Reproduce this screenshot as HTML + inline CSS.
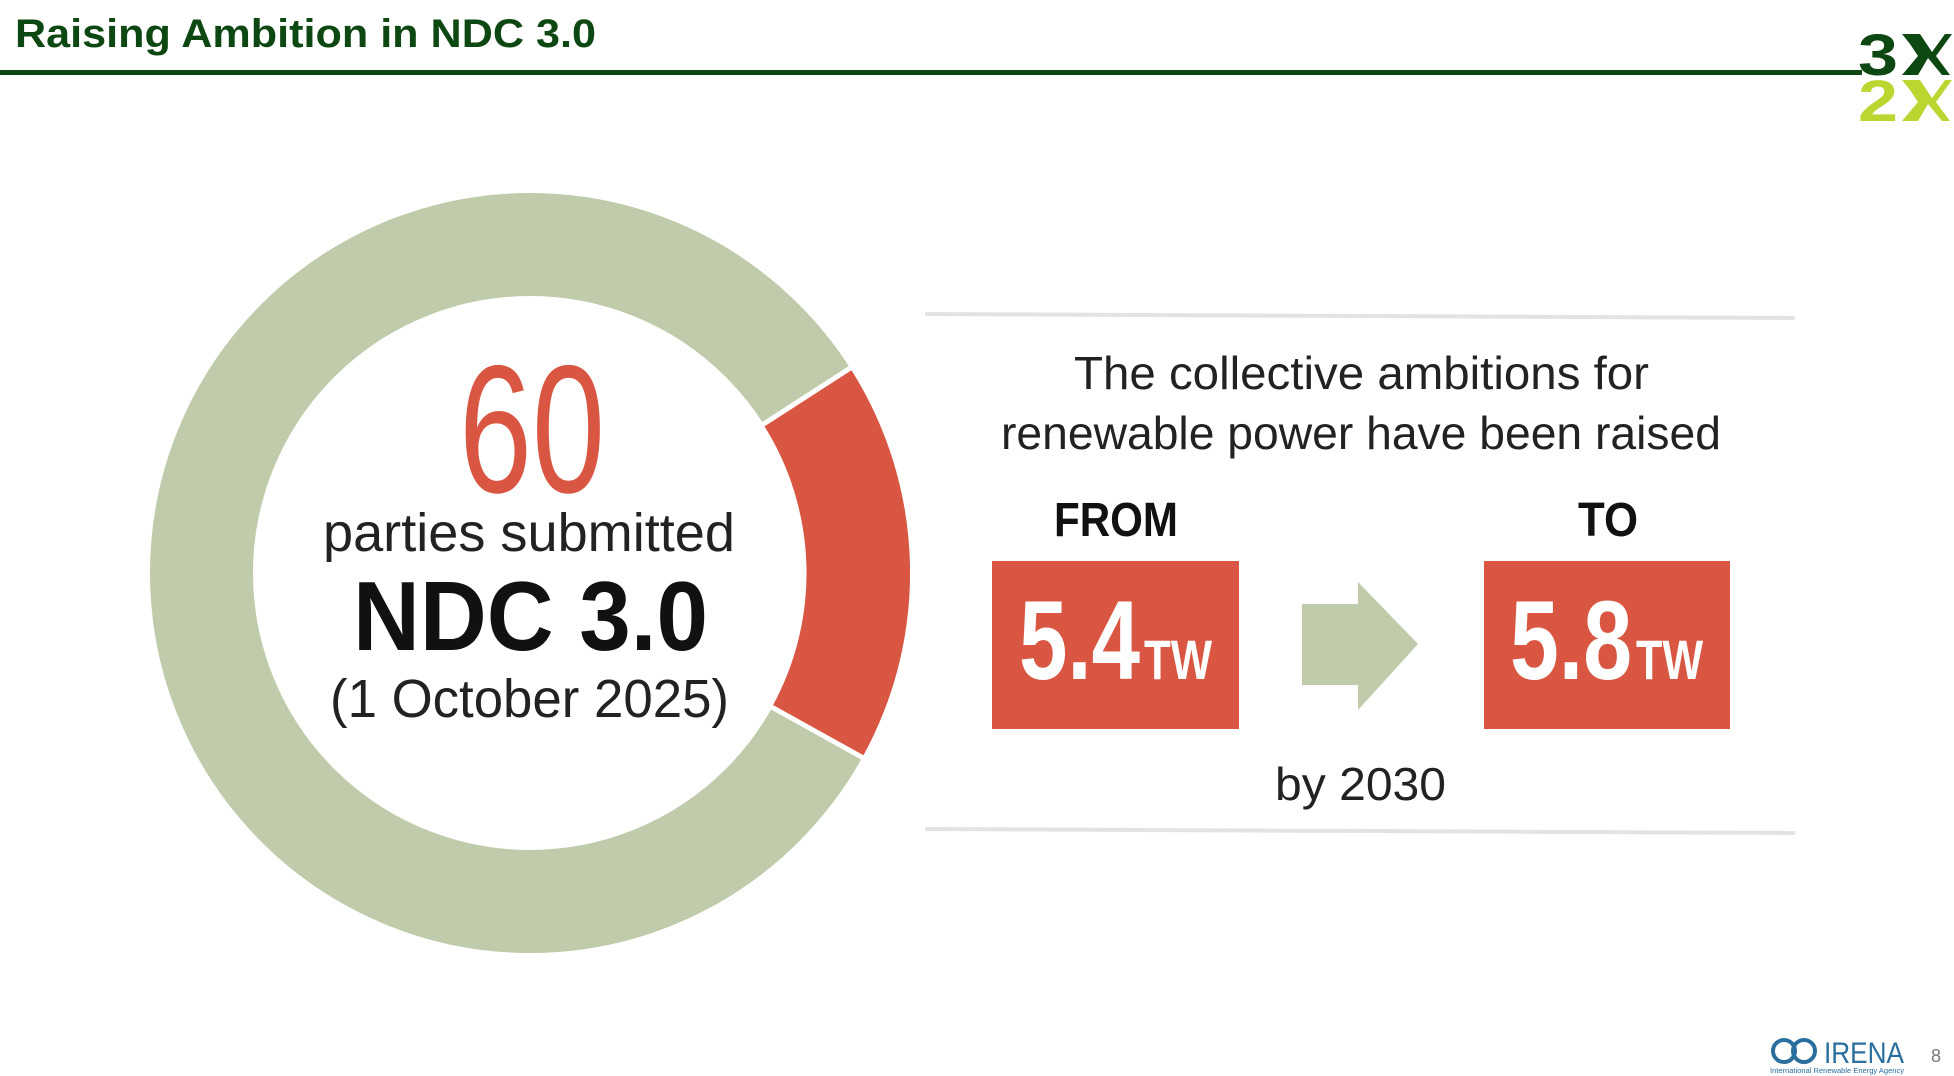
<!DOCTYPE html>
<html><head><meta charset="utf-8"><style>
html,body{margin:0;padding:0;background:#fff;width:1954px;height:1076px;overflow:hidden}
svg{display:block}
text{font-family:"Liberation Sans",sans-serif}
</style></head><body>
<svg width="1954" height="1076" viewBox="0 0 1954 1076" xmlns="http://www.w3.org/2000/svg">
<!-- header -->
<text x="15" y="47" font-size="40" font-weight="bold" fill="#0d4712" textLength="581" lengthAdjust="spacingAndGlyphs">Raising Ambition in NDC 3.0</text>
<rect x="0" y="70" width="1862" height="5" fill="#0d4712"/>
<text x="1858" y="75" font-size="58" font-weight="bold" fill="#0d4712" textLength="40" lengthAdjust="spacingAndGlyphs">3</text>
<path d="M1902 34 L1920 34 L1932 52 L1945 34 L1952 34 L1936 56 L1950 75 L1942 75 L1928 58 L1918 75 L1902 75 L1918 56 L1910 44 Z" fill="#0d4712"/>
<text x="1858" y="121" font-size="58" font-weight="bold" fill="#bcd631" textLength="40" lengthAdjust="spacingAndGlyphs">2</text>
<path d="M1902 80 L1920 80 L1932 98 L1945 80 L1952 80 L1936 102 L1950 121 L1942 121 L1928 104 L1918 121 L1902 121 L1918 102 L1910 90 Z" fill="#bcd631"/>
<!-- donut -->
<circle cx="530" cy="573" r="328.5" fill="none" stroke="#bfcbaa" stroke-width="103"/>
<path d="M850 368 A380 380 0 0 1 862.5 757 L772 707 A277 277 0 0 0 763 424 Z" fill="#d95642"/>
<line x1="855" y1="365" x2="759" y2="427" stroke="#fff" stroke-width="5"/>
<line x1="867" y1="760" x2="768" y2="705" stroke="#fff" stroke-width="5"/>
<text x="459" y="492" font-size="182" fill="#d95642" textLength="146" lengthAdjust="spacingAndGlyphs">60</text>
<text x="323" y="551" font-size="54" fill="#222" textLength="412" lengthAdjust="spacingAndGlyphs">parties submitted</text>
<text x="353" y="650" font-size="98" font-weight="bold" fill="#111" textLength="355" lengthAdjust="spacingAndGlyphs">NDC 3.0</text>
<text x="330" y="717" font-size="54" fill="#222" textLength="399" lengthAdjust="spacingAndGlyphs">(1 October 2025)</text>
<!-- right panel -->
<path d="M925 312 L1795 316 L1795 320 L925 316 Z" fill="#e3e3e3"/>
<path d="M925 827 L1795 831 L1795 835 L925 831 Z" fill="#e3e3e3"/>
<text x="1074" y="389" font-size="46" fill="#222" textLength="575" lengthAdjust="spacingAndGlyphs">The collective ambitions for</text>
<text x="1001" y="449" font-size="46" fill="#222" textLength="720" lengthAdjust="spacingAndGlyphs">renewable power have been raised</text>
<text x="1054" y="536" font-size="48" font-weight="bold" fill="#111" textLength="124" lengthAdjust="spacingAndGlyphs">FROM</text>
<text x="1578" y="536" font-size="48" font-weight="bold" fill="#111" textLength="60" lengthAdjust="spacingAndGlyphs">TO</text>
<rect x="992" y="561" width="247" height="168" fill="#d95642"/>
<rect x="1484" y="561" width="246" height="168" fill="#d95642"/>
<text x="1019" y="679" font-size="112" font-weight="bold" fill="#fff" textLength="121" lengthAdjust="spacingAndGlyphs">5.4</text>
<text x="1144" y="679" font-size="56" font-weight="bold" fill="#fff" textLength="68" lengthAdjust="spacingAndGlyphs">TW</text>
<text x="1510" y="679" font-size="112" font-weight="bold" fill="#fff" textLength="122" lengthAdjust="spacingAndGlyphs">5.8</text>
<text x="1636" y="679" font-size="56" font-weight="bold" fill="#fff" textLength="67" lengthAdjust="spacingAndGlyphs">TW</text>
<path d="M1302 604 L1358 604 L1358 582 L1418 644 L1358 710 L1358 685 L1302 685 Z" fill="#bfcbaa"/>
<text x="1275" y="800" font-size="46" fill="#222" textLength="171" lengthAdjust="spacingAndGlyphs">by 2030</text>
<!-- footer -->
<circle cx="1784" cy="1051" r="11" fill="none" stroke="#2a6e9e" stroke-width="4"/>
<circle cx="1804" cy="1051" r="11" fill="none" stroke="#2a6e9e" stroke-width="4"/>
<text x="1824" y="1063" font-size="30" fill="#2a6e9e" textLength="80" lengthAdjust="spacingAndGlyphs">IRENA</text>
<text x="1770" y="1073" font-size="7" fill="#2a6e9e" textLength="134" lengthAdjust="spacingAndGlyphs">International Renewable Energy Agency</text>
<text x="1931" y="1062" font-size="18" fill="#777">8</text>
</svg>
</body></html>
